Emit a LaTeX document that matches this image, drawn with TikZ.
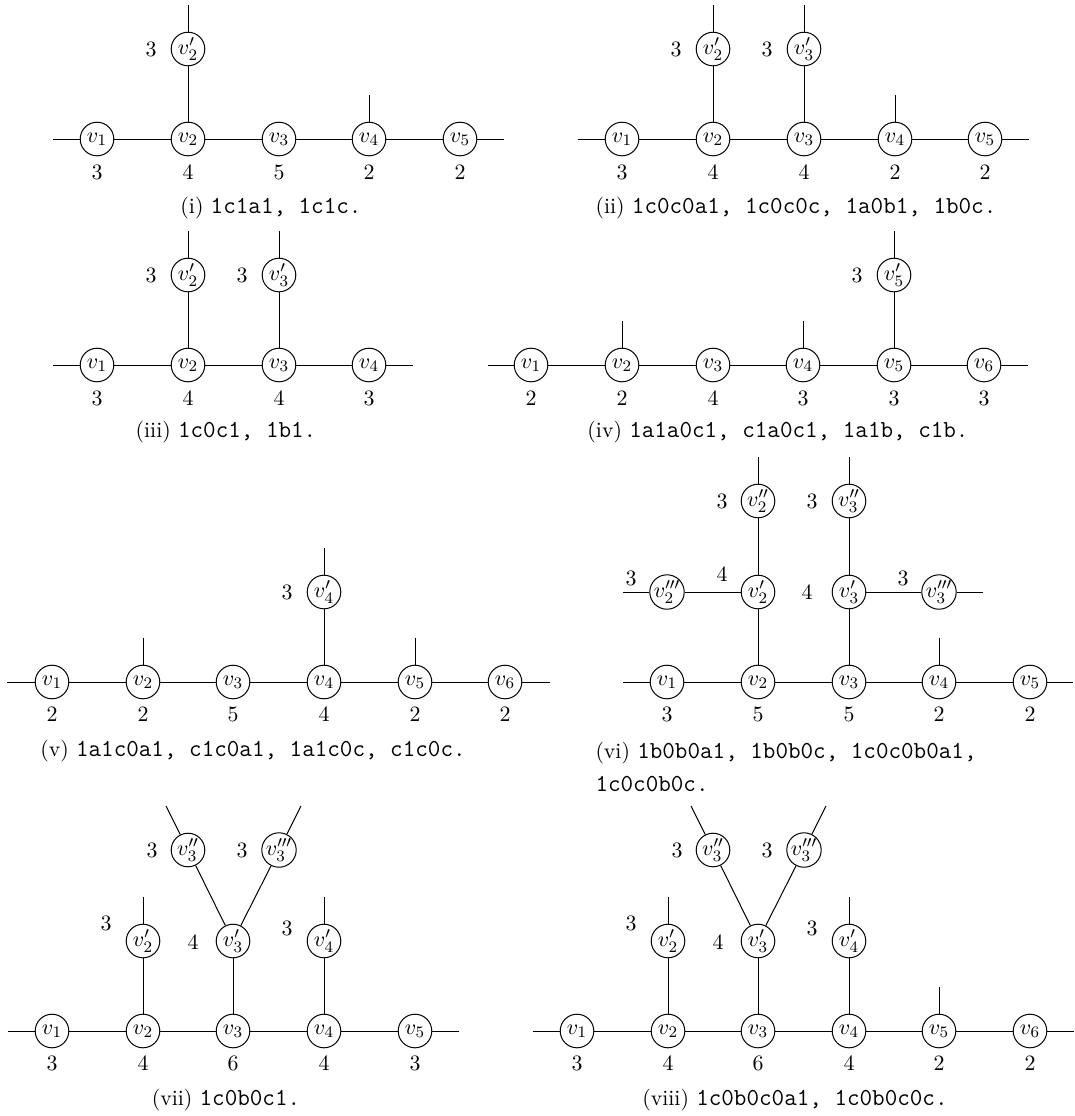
\documentclass[tikz,border=0pt]{standalone}
\newcommand\gfont{\fontsize{10.95}{13}\selectfont}
\newcommand\capfont{\fontsize{10.9}{13}\selectfont}
\newcommand\ct[1]{{\fontsize{12.2}{14}\selectfont\ttfamily #1}}
\tikzset{
  vx/.style={draw, circle, minimum size=16.8pt, inner sep=0pt, font=\gfont},
  lab/.style={inner sep=0pt, font=\gfont},
  captxt/.style={inner sep=0pt, font=\capfont},
  captxtw/.style={inner sep=0pt, font=\capfont, anchor=west}
}
\begin{document}
\begin{tikzpicture}[x=0.5pt, y=-0.5pt, line width=0.5pt]
\useasboundingbox (0,0) rectangle (1075,1116);
% ---------- (i)
\node[vx] (a1) at (97,139) {$v_1$};
\node[vx] (a2) at (188,139) {$v_2$};
\node[vx] (a3) at (279,139) {$v_3$};
\node[vx] (a4) at (369,139) {$v_4$};
\node[vx] (a5) at (460,139) {$v_5$};
\node[vx] (a2p) at (188,49) {$v_2'$};
\coordinate (a1s) at (53,139);
\coordinate (a5s) at (504,139);
\coordinate (a2ps) at (188,5);
\coordinate (a4s) at (369,95);
\draw (a1s) -- (a1) -- (a2) -- (a3) -- (a4) -- (a5) -- (a5s);
\draw (a2) -- (a2p) -- (a2ps);
\draw (a4) -- (a4s);
\node[lab] (a1l) at (97,172) {3};
\node[lab] (a2l) at (188,172) {4};
\node[lab] (a3l) at (279,172) {5};
\node[lab] (a4l) at (369,172) {2};
\node[lab] (a5l) at (460,172) {2};
\node[lab] (a2pl) at (151,49) {3};
\node[captxt] (acap) at (271,208) {(i) \ct{1c1a1, 1c1c.}};
% ---------- (ii)
\node[vx] (b1) at (622,139) {$v_1$};
\node[vx] (b2) at (713,139) {$v_2$};
\node[vx] (b3) at (804,139) {$v_3$};
\node[vx] (b4) at (895,139) {$v_4$};
\node[vx] (b5) at (985,139) {$v_5$};
\node[vx] (b2p) at (713,49) {$v_2'$};
\node[vx] (b3p) at (804,49) {$v_3'$};
\coordinate (b1s) at (578,139);
\coordinate (b5s) at (1029,139);
\coordinate (b2ps) at (713,5);
\coordinate (b3ps) at (804,5);
\coordinate (b4s) at (895,95);
\draw (b1s) -- (b1) -- (b2) -- (b3) -- (b4) -- (b5) -- (b5s);
\draw (b2) -- (b2p) -- (b2ps);
\draw (b3) -- (b3p) -- (b3ps);
\draw (b4) -- (b4s);
\node[lab] (b1l) at (622,172) {3};
\node[lab] (b2l) at (713,172) {4};
\node[lab] (b3l) at (804,172) {4};
\node[lab] (b4l) at (895,172) {2};
\node[lab] (b5l) at (985,172) {2};
\node[lab] (b2pl) at (676,49) {3};
\node[lab] (b3pl) at (767,49) {3};
\node[captxt] (bcap) at (796,208) {(ii) \ct{1c0c0a1, 1c0c0c, 1a0b1, 1b0c.}};
% ---------- (iii)
\node[vx] (c1) at (97,365) {$v_1$};
\node[vx] (c2) at (188,365) {$v_2$};
\node[vx] (c3) at (279,365) {$v_3$};
\node[vx] (c4) at (369,365) {$v_4$};
\node[vx] (c2p) at (188,275) {$v_2'$};
\node[vx] (c3p) at (279,275) {$v_3'$};
\coordinate (c1s) at (53,365);
\coordinate (c4s) at (413,365);
\coordinate (c2ps) at (188,231);
\coordinate (c3ps) at (279,231);
\draw (c1s) -- (c1) -- (c2) -- (c3) -- (c4) -- (c4s);
\draw (c2) -- (c2p) -- (c2ps);
\draw (c3) -- (c3p) -- (c3ps);
\node[lab] (c1l) at (97,398) {3};
\node[lab] (c2l) at (188,398) {4};
\node[lab] (c3l) at (279,398) {4};
\node[lab] (c4l) at (369,398) {3};
\node[lab] (c2pl) at (151,275) {3};
\node[lab] (c3pl) at (242,275) {3};
\node[captxt] (ccap) at (226,432) {(iii) \ct{1c0c1, 1b1.}};
% ---------- (iv)
\node[vx] (d1) at (531,365) {$v_1$};
\node[vx] (d2) at (622,365) {$v_2$};
\node[vx] (d3) at (713,365) {$v_3$};
\node[vx] (d4) at (803,365) {$v_4$};
\node[vx] (d5) at (894,365) {$v_5$};
\node[vx] (d6) at (984,365) {$v_6$};
\node[vx] (d5p) at (894,275) {$v_5'$};
\coordinate (d1s) at (488,365);
\coordinate (d6s) at (1028,365);
\coordinate (d2s) at (622,321);
\coordinate (d4s) at (803,321);
\coordinate (d5ps) at (894,231);
\draw (d1s) -- (d1) -- (d2) -- (d3) -- (d4) -- (d5) -- (d6) -- (d6s);
\draw (d2) -- (d2s);
\draw (d4) -- (d4s);
\draw (d5) -- (d5p) -- (d5ps);
\node[lab] (d1l) at (531,398) {2};
\node[lab] (d2l) at (622,398) {2};
\node[lab] (d3l) at (713,398) {4};
\node[lab] (d4l) at (803,398) {3};
\node[lab] (d5l) at (894,398) {3};
\node[lab] (d6l) at (984,398) {3};
\node[lab] (d5pl) at (857,275) {3};
\node[captxt] (dcap) at (778,432) {(iv) \ct{1a1a0c1, c1a0c1, 1a1b, c1b.}};
% ---------- (v)
\node[vx] (e1) at (52,682) {$v_1$};
\node[vx] (e2) at (143,682) {$v_2$};
\node[vx] (e3) at (233,682) {$v_3$};
\node[vx] (e4) at (324,682) {$v_4$};
\node[vx] (e5) at (415,682) {$v_5$};
\node[vx] (e6) at (505,682) {$v_6$};
\node[vx] (e4p) at (324,592) {$v_4'$};
\coordinate (e1s) at (7,682);
\coordinate (e6s) at (550,682);
\coordinate (e2s) at (143,638);
\coordinate (e5s) at (415,638);
\coordinate (e4ps) at (324,548);
\draw (e1s) -- (e1) -- (e2) -- (e3) -- (e4) -- (e5) -- (e6) -- (e6s);
\draw (e2) -- (e2s);
\draw (e5) -- (e5s);
\draw (e4) -- (e4p) -- (e4ps);
\node[lab] (e1l) at (52,714) {2};
\node[lab] (e2l) at (143,714) {2};
\node[lab] (e3l) at (233,714) {5};
\node[lab] (e4l) at (324,714) {4};
\node[lab] (e5l) at (415,714) {2};
\node[lab] (e6l) at (505,714) {2};
\node[lab] (e4pl) at (287,592) {3};
\node[captxt] (ecap) at (253,751) {(v) \ct{1a1c0a1, c1c0a1, 1a1c0c, c1c0c.}};
% ---------- (vi)
\node[vx] (f1) at (667,682) {$v_1$};
\node[vx] (f2) at (758,682) {$v_2$};
\node[vx] (f3) at (849,682) {$v_3$};
\node[vx] (f4) at (939,682) {$v_4$};
\node[vx] (f5) at (1030,682) {$v_5$};
\node[vx] (f2p) at (758,592) {$v_2'$};
\node[vx] (f3p) at (849,592) {$v_3'$};
\node[vx] (f2pp) at (758,501) {$v_2''$};
\node[vx] (f3pp) at (849,501) {$v_3''$};
\node[vx] (f2ppp) at (667,592) {$v_2'''$};
\node[vx] (f3ppp) at (939,592) {$v_3'''$};
\coordinate (f1s) at (623,682);
\coordinate (f5s) at (1073,682);
\coordinate (f4s) at (939,638);
\coordinate (f2pps) at (758,457);
\coordinate (f3pps) at (849,457);
\coordinate (f2ppps) at (623,592);
\coordinate (f3ppps) at (983,592);
\draw (f1s) -- (f1) -- (f2) -- (f3) -- (f4) -- (f5) -- (f5s);
\draw (f4) -- (f4s);
\draw (f2) -- (f2p) -- (f2pp) -- (f2pps);
\draw (f3) -- (f3p) -- (f3pp) -- (f3pps);
\draw (f2ppps) -- (f2ppp) -- (f2p);
\draw (f3p) -- (f3ppp) -- (f3ppps);
\node[lab] (f1l) at (667,714) {3};
\node[lab] (f2l) at (758,714) {5};
\node[lab] (f3l) at (849,714) {5};
\node[lab] (f4l) at (939,714) {2};
\node[lab] (f5l) at (1030,714) {2};
\node[lab] (f2pppl) at (631,578) {3};
\node[lab] (f2pl) at (722,574) {4};
\node[lab] (f3pl) at (807,592) {4};
\node[lab] (f3pppl) at (903,578) {3};
\node[lab] (f2ppl) at (722,501) {3};
\node[lab] (f3ppl) at (812,501) {3};
\node[captxtw] (fcap) at (595,753) {(vi) \ct{1b0b0a1, 1b0b0c, 1c0c0b0a1,}};
\node[captxtw] (fcapb) at (595,784) {\ct{1c0c0b0c.}};
% ---------- (vii)
\node[vx] (g1) at (52,1031) {$v_1$};
\node[vx] (g2) at (143,1031) {$v_2$};
\node[vx] (g3) at (233,1031) {$v_3$};
\node[vx] (g4) at (324,1031) {$v_4$};
\node[vx] (g5) at (415,1031) {$v_5$};
\node[vx] (g2p) at (143,941) {$v_2'$};
\node[vx] (g3p) at (233,941) {$v_3'$};
\node[vx] (g4p) at (324,941) {$v_4'$};
\node[vx] (g3pp) at (188,850) {$v_3''$};
\node[vx] (g3ppp) at (279,850) {$v_3'''$};
\coordinate (g1s) at (8,1031);
\coordinate (g5s) at (459,1031);
\coordinate (g2ps) at (143,897);
\coordinate (g4ps) at (324,897);
\coordinate (g3pps) at (166,806);
\coordinate (g3ppps) at (301,806);
\draw (g1s) -- (g1) -- (g2) -- (g3) -- (g4) -- (g5) -- (g5s);
\draw (g2) -- (g2p) -- (g2ps);
\draw (g4) -- (g4p) -- (g4ps);
\draw (g3) -- (g3p);
\draw (g3p) -- (g3pp) -- (g3pps);
\draw (g3p) -- (g3ppp) -- (g3ppps);
\node[lab] (g1l) at (52,1063) {3};
\node[lab] (g2l) at (143,1063) {4};
\node[lab] (g3l) at (233,1063) {6};
\node[lab] (g4l) at (324,1063) {4};
\node[lab] (g5l) at (415,1063) {3};
\node[lab] (g2pl) at (106,923) {3};
\node[lab] (g3pl) at (193,942) {4};
\node[lab] (g4pl) at (287,928) {3};
\node[lab] (g3ppl) at (152,850) {3};
\node[lab] (g3pppl) at (242,850) {3};
\node[captxt] (gcap) at (226,1100) {(vii) \ct{1c0b0c1.}};
% ---------- (viii)
\node[vx] (h1) at (577,1031) {$v_1$};
\node[vx] (h2) at (668,1031) {$v_2$};
\node[vx] (h3) at (758,1031) {$v_3$};
\node[vx] (h4) at (849,1031) {$v_4$};
\node[vx] (h5) at (939,1031) {$v_5$};
\node[vx] (h6) at (1030,1031) {$v_6$};
\node[vx] (h2p) at (668,941) {$v_2'$};
\node[vx] (h3p) at (758,941) {$v_3'$};
\node[vx] (h4p) at (849,941) {$v_4'$};
\node[vx] (h3pp) at (713,850) {$v_3''$};
\node[vx] (h3ppp) at (804,850) {$v_3'''$};
\coordinate (h1s) at (533,1031);
\coordinate (h6s) at (1074,1031);
\coordinate (h2ps) at (668,897);
\coordinate (h4ps) at (849,897);
\coordinate (h5s) at (939,987);
\coordinate (h3pps) at (691,806);
\coordinate (h3ppps) at (826,806);
\draw (h1s) -- (h1) -- (h2) -- (h3) -- (h4) -- (h5) -- (h6) -- (h6s);
\draw (h2) -- (h2p) -- (h2ps);
\draw (h4) -- (h4p) -- (h4ps);
\draw (h5) -- (h5s);
\draw (h3) -- (h3p);
\draw (h3p) -- (h3pp) -- (h3pps);
\draw (h3p) -- (h3ppp) -- (h3ppps);
\node[lab] (h1l) at (577,1063) {3};
\node[lab] (h2l) at (668,1063) {4};
\node[lab] (h3l) at (758,1063) {6};
\node[lab] (h4l) at (849,1063) {4};
\node[lab] (h5l) at (939,1063) {2};
\node[lab] (h6l) at (1030,1063) {2};
\node[lab] (h2pl) at (631,923) {3};
\node[lab] (h3pl) at (718,942) {4};
\node[lab] (h4pl) at (812,928) {3};
\node[lab] (h3ppl) at (677,850) {3};
\node[lab] (h3pppl) at (767,850) {3};
\node[captxt] (hcap) at (795,1100) {(viii) \ct{1c0b0c0a1, 1c0b0c0c.}};
\end{tikzpicture}
\end{document}
